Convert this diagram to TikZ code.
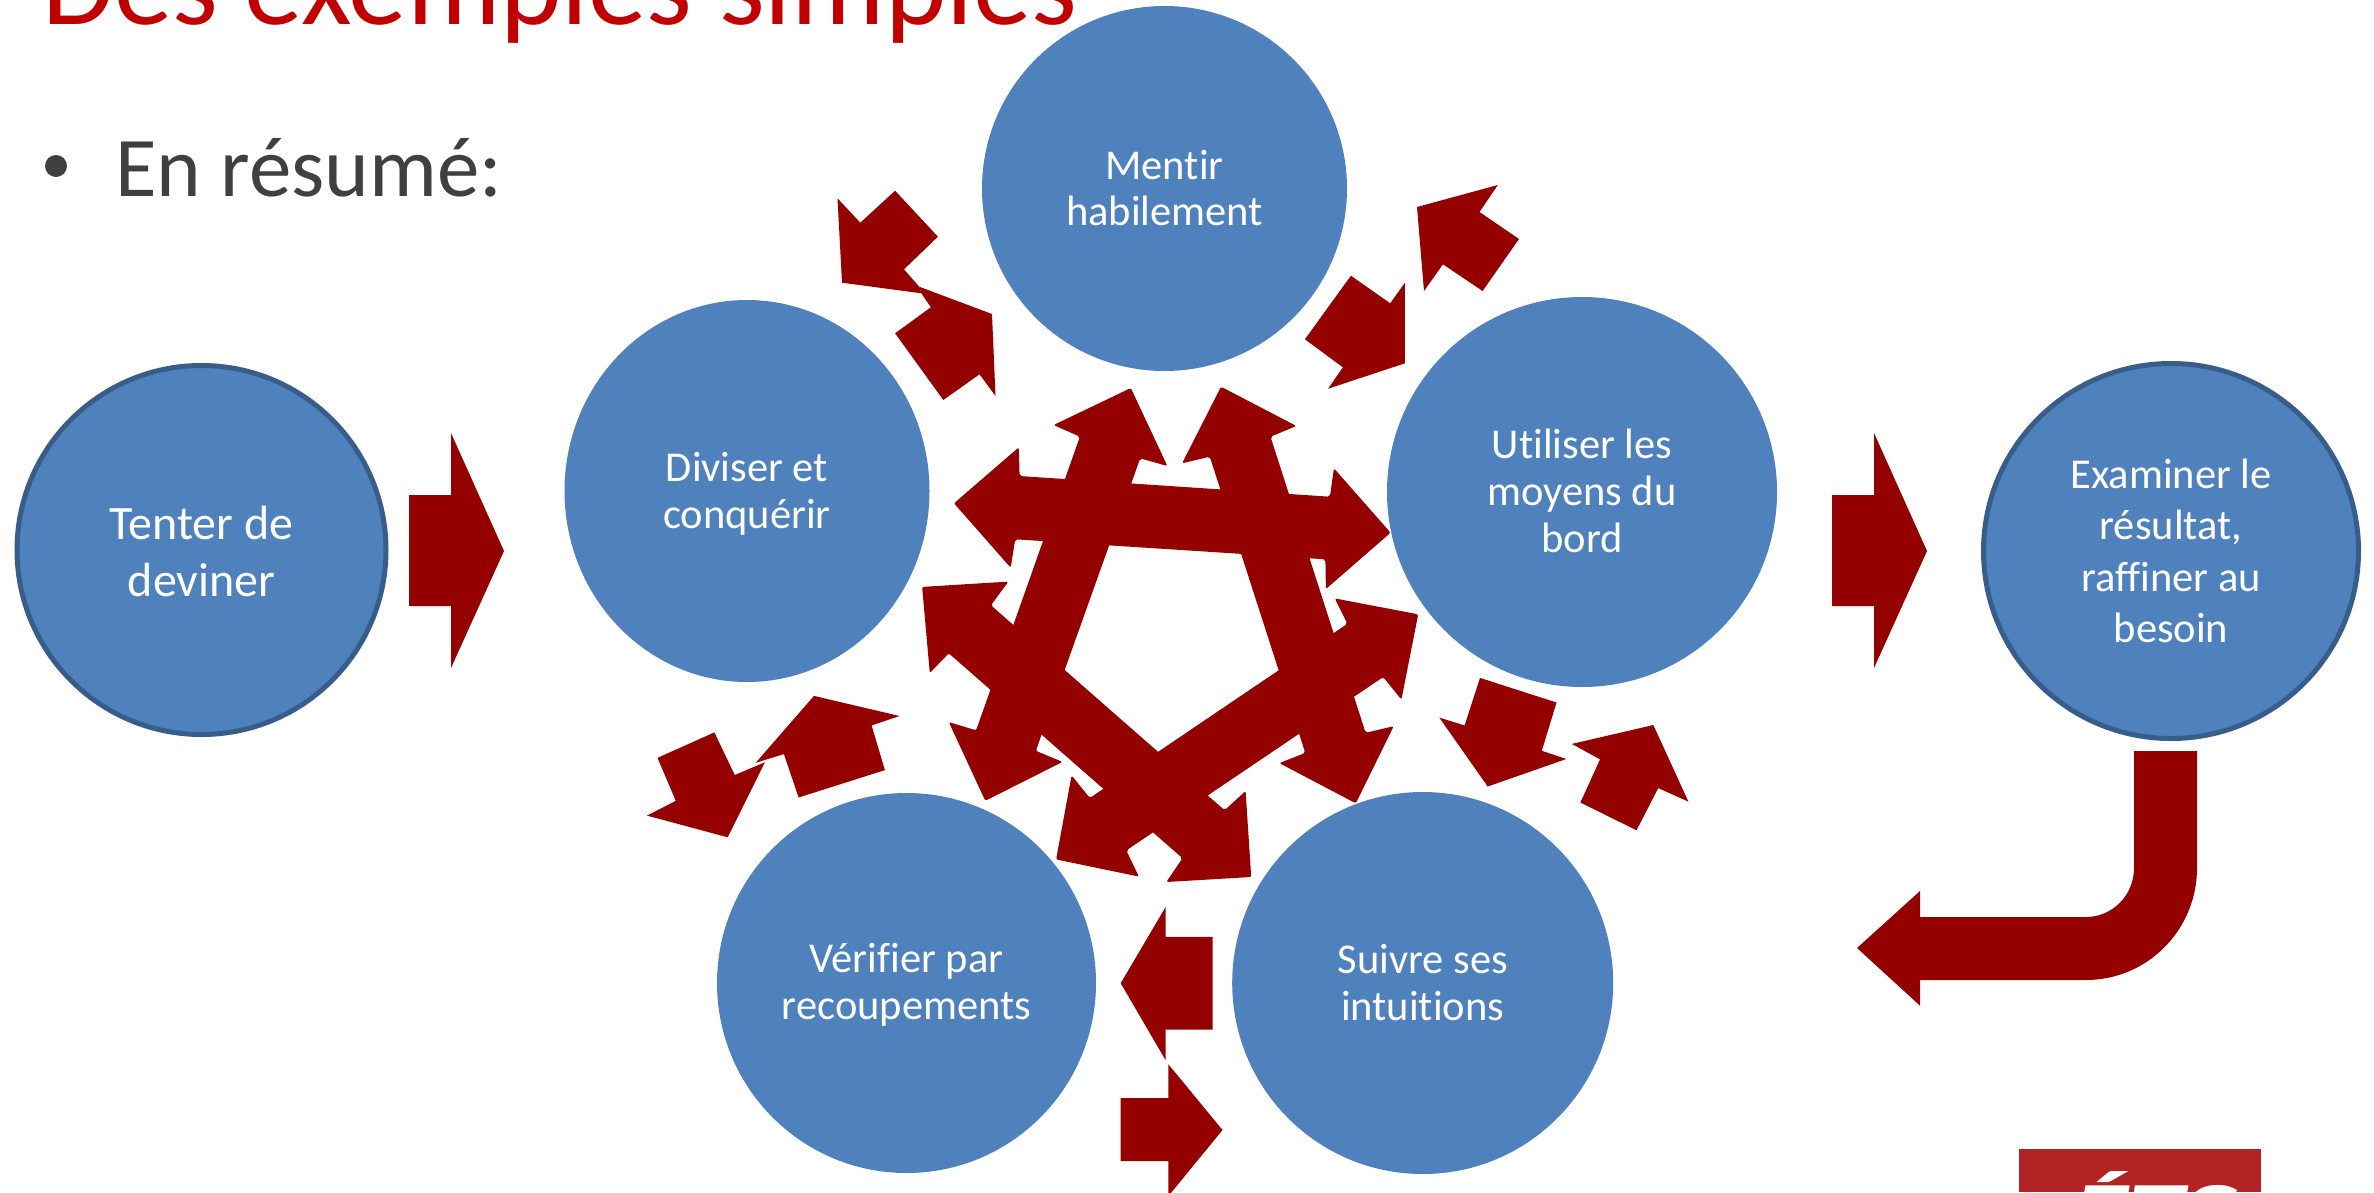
\documentclass[tikz,border=0pt]{standalone}
\usepackage{fontspec}
\setmainfont[Ligatures=CommonOff]{Carlito}
\usetikzlibrary{shapes.geometric}
\definecolor{blockred}{HTML}{940000}
\definecolor{circfill}{HTML}{4F81BD}
\definecolor{circline}{HTML}{385D8A}
\definecolor{titlered}{HTML}{C00000}
\definecolor{bodygray}{HTML}{404040}
\definecolor{logored}{HTML}{B22325}
\newcommand{\upstrut}[1]{\rule{0pt}{#1pt}}
\newcommand{\dnstrut}[1]{\rule[-#1pt]{0pt}{1pt}}
\tikzset{
  x=1pt,y=-1pt,
  blob/.style={ellipse,fill=circfill,draw=none,inner sep=0pt,text=white,align=center,font=\fontsize{42.5}{47}\selectfont},
  ringed/.style={blob,draw=circline,line width=5pt},
  block/.style={fill=blockred,draw=none},
  star/.style={fill=blockred,draw=none,rounded corners=2pt},
}
\begin{document}
\begin{tikzpicture}
\clip (0,0) rectangle (2374,1192);
\fill[white] (0,0) rectangle (2374,1192);
% title and bullet
\node[anchor=base west,inner sep=0pt,text=titlered,font=\fontsize{117}{117}\selectfont] (title) at (42,24) {Des exemples simples};
\fill[bodygray] (56,166) ellipse (11 and 11);
\node[anchor=base west,inner sep=0pt,text=bodygray,font=\fontsize{85}{85}\selectfont] (resume) at (115,196) {En résumé:};
% central star
\path[star] (954,503.3)--(1018.8,447.3)--(1019.6,476)--(1329.9,496.7)--(1333.9,468.3)--(1390.6,532.7)--(1325.9,589)--(1325.4,559.3)--(1015.2,539.3)--(1010.7,567.7)--cycle;
\path[star] (1130.8,388)--(1167.4,466)--(1140.2,458.3)--(1035.8,750.8)--(1062.5,761.9)--(985.3,800.8)--(948.8,722.1)--(976.1,730.3)--(1079.9,436.7)--(1053.6,425)--cycle;
\path[star] (1221,386.7)--(1296.4,426)--(1270.5,436.7)--(1365.6,732.8)--(1393.7,726.2)--(1355.8,803.3)--(1279.3,763.1)--(1305.3,752.9)--(1209.8,456.7)--(1182.1,463.3)--cycle;
\path[star] (922.1,586.9)--(1008.4,581.6)--(990.9,605.3)--(1224.6,810.2)--(1245.6,791)--(1251.2,877)--(1166.3,882)--(1182.5,858.2)--(948.8,653.3)--(929.8,673)--cycle;
\path[star] (1418.2,614.3)--(1401.4,699.6)--(1383.2,677)--(1126.3,850.4)--(1138.9,876.6)--(1056.1,859.4)--(1071.6,775.4)--(1089.8,798)--(1347.4,623.8)--(1334.7,598.4)--cycle;
% small arrow pairs
\path[block] (837.5,198.3)--(860.3,222.7)--(895.1,190.7)--(937.9,236.7)--(904,269.3)--(919.2,286.7)--(921.4,293.3)--(842,282.7)--cycle;
\path[block] (919.2,286.7)--(992,314)--(995.5,396)--(979.5,374.3)--(943.3,400)--(895.1,333.3)--(930.8,307.3)--(921.4,293.3)--cycle;
\path[block] (1417,207)--(1497.8,185)--(1479.5,212)--(1519,239)--(1482.6,291)--(1442.9,264.3)--(1424,291)--cycle;
\path[block] (1350.9,275.7)--(1390.2,303.3)--(1404.9,282.7)--(1404.9,363.3)--(1328.1,388.7)--(1342.9,367.3)--(1304.9,339.3)--cycle;
\path[block] (714.4,732.4)--(734.7,775)--(764.9,762.3)--(727.7,837.3)--(647,815.6)--(675.8,800.8)--(657.5,757.8)--cycle;
\path[block] (814,695.9)--(899.6,716)--(871.6,725.4)--(884.9,770.1)--(798.6,797.5)--(783.9,754.1)--(755.8,762.7)--cycle;
\path[block] (1480,677.9)--(1556.5,702.5)--(1541.8,750.8)--(1566.3,759)--(1487.7,786.5)--(1439.3,717.6)--(1464.6,725.4)--cycle;
\path[block] (1653.3,725)--(1688.4,801.6)--(1658.2,788.1)--(1636.5,830.3)--(1580.4,802.5)--(1600,759.4)--(1571.9,743.9)--cycle;
\path[block] (1165.6,907)--(1165.6,936.9)--(1212.6,936.9)--(1212.6,1029.5)--(1165.6,1029.5)--(1165.6,1060.2)--(1120.7,983.2)--cycle;
\path[block] (1168.4,1064.3)--(1222.5,1130)--(1168.4,1196)--(1168.4,1161)--(1120.7,1161)--(1120.7,1098)--(1168.4,1098)--cycle;
% big arrows
\path[block] (409,495)--(451,495)--(451,433)--(504,551)--(451,668)--(451,606)--(409,606)--cycle;
\path[block] (1832,495)--(1874,495)--(1874,433)--(1927,551)--(1874,668)--(1874,606)--(1832,606)--cycle;
\path[block] (2134,751)--(2197,751)--(2197,868) arc[start angle=0,end angle=90,x radius=111,y radius=112] --(1920,980)--(1920,1005.7)--(1857,948)--(1920,891)--(1920,917)--(2086,917) arc[start angle=90,end angle=0,x radius=48,y radius=49] --cycle;
% circles
\node[ringed,minimum width=369pt,minimum height=369pt,font=\fontsize{48}{57}\selectfont] (tenter) at (201.5,550) {\upstrut{36}Tenter de\\deviner};
\node[blob,minimum width=365pt,minimum height=382pt] (diviser) at (747,491) {\upstrut{35}Diviser et\\conquérir};
\node[blob,minimum width=365pt,minimum height=365pt,font=\fontsize{42.5}{46}\selectfont] (mentir) at (1164.5,188.5) {Mentir\\habilement};
\node[blob,minimum width=390pt,minimum height=390pt] (utiliser) at (1582,492) {Utiliser les\\moyens du\\bord\dnstrut{2}};
\node[blob,minimum width=379pt,minimum height=380pt] (verifier) at (906.5,983) {\upstrut{33}Vérifier par\\recoupements};
\node[blob,minimum width=381pt,minimum height=382pt] (suivre) at (1422.7,983) {Suivre ses\\intuitions};
\node[ringed,minimum width=375pt,minimum height=375pt,font=\fontsize{42.5}{51.5}\selectfont] (examiner) at (2171,551) {\upstrut{29}Examiner le\\résultat,\\raffiner au\\besoin};
% logo
\fill[logored] (2019,1149) rectangle (2261,1192);
\node[anchor=base,inner sep=0pt,text=white,font=\fontsize{75}{75}\bfseries\itshape\selectfont] (logo) at (2155,1234) {\scalebox{1.5}[1]{ÉTS}};
\end{tikzpicture}
\end{document}
